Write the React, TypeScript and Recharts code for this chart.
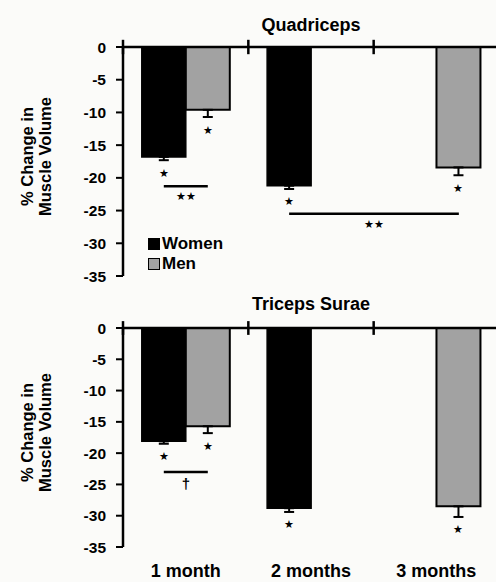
import React from "react";
import {
  Bar,
  BarChart,
  ErrorBar,
  LabelList,
  Legend,
  ReferenceLine,
  XAxis,
  YAxis,
} from "recharts";

const months = ["1 month", "2 months", "3 months"];

const quadWomen = [-16.8, -21.2, null];
const quadWomenErr = [0.5, 0.5, null];
const quadMen = [-9.6, null, -18.4];
const quadMenErr = [1.1, null, 1.2];

const tricWomen = [-18.1, -28.8, null];
const tricWomenErr = [0.4, 0.6, null];
const tricMen = [-15.7, null, -28.5];
const tricMenErr = [1.1, null, 1.7];

const yTicks = [0, -5, -10, -15, -20, -25, -30, -35];
const legendOrder = ["Women", "Men"];

// significance brackets: from a women bar (month index) to a men bar (month index)
const quadBrackets = [
  { from: 0, to: 0, y: -21.3, mark: "★★" },
  { from: 1, to: 2, y: -25.5, mark: "★★" },
];
const tricBrackets = [{ from: 0, to: 0, y: -23, mark: "†" }];

const FONT = '"Liberation Sans", Arial, sans-serif';
const GAP = 0.15; // barCategoryGap as a fraction of the band
const MEN_FILL = "#a2a2a2";

type Vals = (number | null)[];
type Bracket = { from: number; to: number; y: number; mark: string };

const AxisTitle = (props: any) => {
  const vb = props.viewBox;
  const cx = vb.x + 33;
  const cy = vb.y + vb.height / 2 - 5;
  return (
    <text
      transform={`translate(${cx},${cy}) rotate(-90)`}
      textAnchor="middle"
      fontSize={16.5}
      fontWeight={700}
      fontFamily={FONT}
      fill="#000"
    >
      <tspan x={0} y={0}>% Change in</tspan>
      <tspan x={0} y={18}>Muscle Volume</tspan>
    </text>
  );
};

// star under each bar's error bar, plus any bracket that starts at this bar
const barMarks = (values: Vals, errs: Vals, brackets: Bracket[]) => (props: any) => {
  const v = props.value;
  if (v == null) return null;
  const i = values.indexOf(v);
  if (i < 0 || errs[i] == null) return null;
  const vb = props.viewBox ?? props;
  const { x, y, width: w, height: h } = vb;
  const top = Math.min(y, y + h);
  const bottom = Math.max(y, y + h);
  const ppu = Math.abs(h) / Math.abs(v);
  const cx = x + w / 2;
  const band = (2 * w) / (1 - 2 * GAP);
  const starY = bottom + (errs[i] as number) * ppu + 12.5;
  return (
    <g>
      <text x={cx} y={starY} textAnchor="middle" dominantBaseline="central" fontSize={10.5} fill="#000">
        ★
      </text>
      {brackets
        .filter((b) => b.from === i)
        .map((b, k) => {
          const by = top - b.y * ppu;
          const x2 = cx + (b.to - b.from) * band + w;
          const dagger = b.mark === "†";
          return (
            <g key={k}>
              <line x1={cx} x2={x2} y1={by} y2={by} stroke="#000" strokeWidth={2.5} />
              <text
                x={(cx + x2) / 2}
                y={by + (dagger ? 11.5 : 10)}
                textAnchor="middle"
                dominantBaseline="central"
                fontSize={dagger ? 15 : 10.5}
                fontWeight={dagger ? 700 : 400}
                fontFamily={dagger ? FONT : undefined}
                fill="#000"
              >
                {b.mark}
              </text>
            </g>
          );
        })}
    </g>
  );
};

const LegendContent = ({ payload }: any) => {
  const items = [...(payload ?? [])].sort(
    (a: any, b: any) => legendOrder.indexOf(a.value) - legendOrder.indexOf(b.value)
  );
  return (
    <div style={{ fontFamily: FONT, fontSize: 17, fontWeight: 700, lineHeight: "20px", color: "#000" }}>
      {items.map((e: any) => (
        <div key={e.value} style={{ display: "flex", alignItems: "center" }}>
          <span
            style={{
              width: 12,
              height: 12,
              boxSizing: "border-box",
              background: e.value === "Men" ? MEN_FILL : "#000",
              border: "1.5px solid #000",
              marginRight: 2,
            }}
          />
          {e.value}
        </div>
      ))}
    </div>
  );
};

interface PanelProps {
  title: string;
  women: Vals;
  womenErr: Vals;
  men: Vals;
  menErr: Vals;
  brackets: Bracket[];
  top: number;
  height: number;
  marginTop: number;
  titleTop: number;
  showLegend?: boolean;
  showMonths?: boolean;
}

function Panel(p: PanelProps) {
  const data = months.map((m, i) => ({
    month: m,
    women: p.women[i],
    men: p.men[i],
    womenErr: p.womenErr[i] == null ? undefined : [p.womenErr[i], 0],
    menErr: p.menErr[i] == null ? undefined : [p.menErr[i], 0],
  }));

  return (
    <div style={{ position: "absolute", left: 0, top: p.top, width: 500, height: p.height }}>
      <div
        style={{
          position: "absolute",
          left: 123,
          width: 376,
          top: p.titleTop,
          textAlign: "center",
          fontFamily: FONT,
          fontSize: 18,
          fontWeight: 700,
          lineHeight: "18px",
          color: "#000",
        }}
      >
        {p.title}
      </div>
      <BarChart
        width={500}
        height={p.height}
        data={data}
        margin={{ top: p.marginTop, right: 1, bottom: p.showMonths ? 0 : 14, left: 0 }}
        barCategoryGap={`${GAP * 100}%`}
        barGap={0}
      >
        <XAxis
          dataKey="month"
          hide={!p.showMonths}
          height={35}
          axisLine={false}
          tickLine={false}
          tickSize={0}
          tickMargin={17}
          tick={{ fill: "#000", fontSize: 18, fontWeight: 700, fontFamily: FONT }}
        />
        <YAxis
          width={123}
          domain={[-35, 0]}
          ticks={yTicks}
          interval={0}
          tickSize={7}
          tickMargin={10}
          axisLine={{ stroke: "#000", strokeWidth: 2.5 }}
          tickLine={{ stroke: "#000", strokeWidth: 2 }}
          tick={{ fill: "#000", fontSize: 15.5, fontWeight: 700, fontFamily: FONT }}
          label={AxisTitle}
        />
        {p.showLegend && (
          <Legend
            layout="vertical"
            align="center"
            verticalAlign="middle"
            wrapperStyle={{ left: 148, top: 234, width: "auto" }}
            content={LegendContent}
          />
        )}
        <ReferenceLine y={0} stroke="#000" strokeWidth={2.5} ifOverflow="visible" />
        {months.map((m) => (
          <ReferenceLine
            key={m}
            segment={[
              { x: m, y: 1.1 },
              { x: m, y: -1.1 },
            ]}
            position="start"
            stroke="#000"
            strokeWidth={2.5}
            ifOverflow="visible"
          />
        ))}
        <Bar dataKey="women" name="Women" fill="#000" stroke="#000" strokeWidth={1.5} isAnimationActive={false}>
          <ErrorBar dataKey="womenErr" width={5} stroke="#000" strokeWidth={2} />
          <LabelList dataKey="women" content={barMarks(p.women, p.womenErr, p.brackets)} />
        </Bar>
        <Bar dataKey="men" name="Men" fill={MEN_FILL} stroke="#000" strokeWidth={2} isAnimationActive={false}>
          <ErrorBar dataKey="menErr" width={5} stroke="#000" strokeWidth={2} />
          <LabelList dataKey="men" content={barMarks(p.men, p.menErr, [])} />
        </Bar>
      </BarChart>
    </div>
  );
}

export default function App() {
  return (
    <div
      style={{
        position: "absolute",
        left: 0,
        top: 0,
        width: 496,
        height: 582,
        overflow: "hidden",
        background: "#fbfbf9",
        fontFamily: FONT,
      }}
    >
      <Panel
        title="Quadriceps"
        women={quadWomen}
        womenErr={quadWomenErr}
        men={quadMen}
        menErr={quadMenErr}
        brackets={quadBrackets}
        top={0}
        height={290}
        marginTop={47}
        titleTop={16}
        showLegend
      />
      <Panel
        title="Triceps Surae"
        women={tricWomen}
        womenErr={tricWomenErr}
        men={tricMen}
        menErr={tricMenErr}
        brackets={tricBrackets}
        top={290}
        height={292}
        marginTop={38}
        titleTop={5}
        showMonths
      />
    </div>
  );
}
